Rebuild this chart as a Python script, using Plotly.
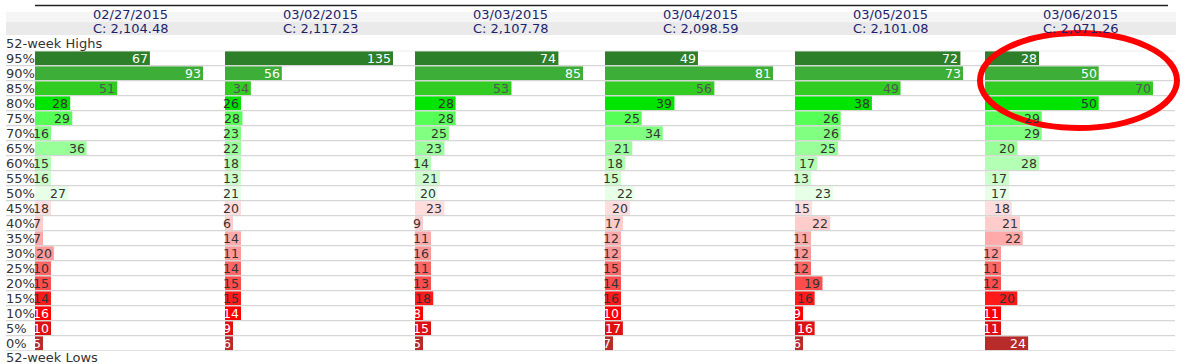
import plotly.graph_objects as go

# ---------------- data ----------------
dates = ["02/27/2015", "03/02/2015", "03/03/2015", "03/04/2015", "03/05/2015", "03/06/2015"]
closes = ["2,104.48", "2,117.23", "2,107.78", "2,098.59", "2,101.08", "2,071.26"]
row_labels = ["95%", "90%", "85%", "80%", "75%", "70%", "65%", "60%", "55%", "50%",
              "45%", "40%", "35%", "30%", "25%", "20%", "15%", "10%", "5%", "0%"]

v_0227 = [67, 93, 51, 28, 29, 16, 36, 15, 16, 27, 18, 7, 7, 20, 10, 15, 14, 16, 10, 5]
v_0302 = [135, 56, 34, 26, 28, 23, 22, 18, 13, 21, 20, 6, 14, 11, 14, 15, 15, 14, 9, 6]
v_0303 = [74, 85, 53, 28, 28, 25, 23, 14, 21, 20, 23, 9, 11, 16, 11, 13, 18, 8, 15, 5]
v_0304 = [49, 81, 56, 39, 25, 34, 21, 18, 15, 22, 20, 17, 12, 12, 15, 14, 16, 10, 17, 7]
v_0305 = [72, 73, 49, 38, 26, 26, 25, 17, 13, 23, 15, 22, 11, 12, 12, 19, 16, 9, 16, 6]
v_0306 = [28, 50, 70, 50, 29, 29, 20, 28, 17, 17, 18, 21, 22, 12, 11, 12, 20, 11, 11, 24]
series = [v_0227, v_0302, v_0303, v_0304, v_0305, v_0306]

row_colors = ["#2e7f2a", "#3dae37", "#33cc22", "#00e400", "#55ff55", "#80ff80", "#99ff99",
              "#b3ffb3", "#ccffcc", "#e6ffe6", "#ffdddd", "#ffcccc", "#ffaaaa", "#ff9999",
              "#ff6666", "#ff4d4d", "#ff1a1a", "#ff0000", "#dd1111", "#b72b2b"]
row_text_colors = ["#ffffff", "#ffffff", "#555555"] + ["#333333"] * 14 + ["#ffffff"] * 3

# ---------------- layout constants ----------------
W, H = 1187, 364
COL_LEFT = 35
COLW = 190
PAD = 22
ROW_TOP = 50.7
ROW_H = 15
N = len(row_labels)
FONT = "'DejaVu Sans', Verdana, sans-serif"


def px(x):
    return x / W


def py(y):
    return 1 - y / H


fig = go.Figure()
annotations = []
shapes = []

# header band
shapes.append(dict(type="rect", xref="paper", yref="paper", x0=px(6), x1=px(1176),
                   y0=py(22), y1=py(12), fillcolor="#f5f5f5", line=dict(width=0), layer="below"))
shapes.append(dict(type="rect", xref="paper", yref="paper", x0=px(6), x1=px(1176),
                   y0=py(35), y1=py(22), fillcolor="#eaeaea", line=dict(width=0), layer="below"))
shapes.append(dict(type="line", xref="paper", yref="paper", x0=px(35), x1=px(1168),
                   y0=py(5.5), y1=py(5.5), line=dict(color="#222222", width=1.5)))

rows_y = list(range(N))

for k, vals in enumerate(series):
    vmax = max(vals)
    r0 = PAD * vmax / COLW
    r1 = vmax + r0
    unit = vmax / COLW
    shown = [max(v, r0 + len(str(v)) * 8 * unit) for v in vals]
    xa = "x" if k == 0 else f"x{k + 1}"
    axname = "xaxis" if k == 0 else f"xaxis{k + 1}"
    d0 = COL_LEFT + COLW * k
    fig.add_trace(go.Bar(
        x=shown, y=rows_y, orientation="h", base=0,
        marker=dict(color=row_colors, line=dict(width=0)),
        width=0.94, xaxis=xa, yaxis="y", hoverinfo="skip", showlegend=False,
    ))
    fig.layout[axname] = dict(domain=[px(d0), px(d0 + COLW)], range=[r0, r1],
                              showgrid=False, zeroline=False, showticklabels=False,
                              showline=False, fixedrange=True, anchor="y")
    for i, v in enumerate(vals):
        annotations.append(dict(x=shown[i], y=i, xref=xa, yref="y", text=str(v),
                                showarrow=False, xanchor="right", yanchor="middle",
                                xshift=0,
                                font=dict(family=FONT, size=12.5, color=row_text_colors[i])))
    cx = px(d0 + COLW / 2)
    annotations.append(dict(x=cx, y=py(14.5), xref="paper", yref="paper", text=dates[k],
                            showarrow=False, xanchor="center", yanchor="middle",
                            font=dict(family=FONT, size=13, color="#221f6e")))
    annotations.append(dict(x=cx, y=py(28.5), xref="paper", yref="paper", text="C: " + closes[k],
                            showarrow=False, xanchor="center", yanchor="middle",
                            font=dict(family=FONT, size=13, color="#221f6e")))

# row labels
for i, lab in enumerate(row_labels):
    annotations.append(dict(x=px(4), y=i, xref="paper", yref="y", text=lab, showarrow=False,
                            xanchor="left", yanchor="middle",
                            font=dict(family=FONT, size=13, color="#333333")))

annotations.append(dict(x=px(4), y=py(43.5), xref="paper", yref="paper", text="52-week Highs",
                        showarrow=False, xanchor="left", yanchor="middle",
                        font=dict(family=FONT, size=13, color="#333333")))
annotations.append(dict(x=px(4), y=py(357.5), xref="paper", yref="paper", text="52-week Lows",
                        showarrow=False, xanchor="left", yanchor="middle",
                        font=dict(family=FONT, size=13, color="#333333")))

# row gridlines
for j in range(N + 1):
    shapes.append(dict(type="line", xref="paper", yref="y", x0=px(6), x1=px(1175),
                       y0=j - 0.5, y1=j - 0.5, line=dict(color="#d6d6d6", width=1.2)))

# red highlight ellipse
shapes.append(dict(type="circle", xref="paper", yref="paper", x0=px(980), x1=px(1177),
                   y0=py(128), y1=py(33), line=dict(color="#ff0000", width=6)))

fig.update_layout(
    width=W, height=H,
    margin=dict(l=0, r=0, t=0, b=0),
    paper_bgcolor="white", plot_bgcolor="white",
    yaxis=dict(domain=[py(ROW_TOP + ROW_H * N), py(ROW_TOP)], range=[N - 0.5, -0.5],
               showgrid=False, zeroline=False, showticklabels=False, fixedrange=True),
    barmode="overlay",
    annotations=annotations,
    shapes=shapes,
    font=dict(family=FONT),
)

fig.write_html("out.html", config={"displayModeBar": False},
               post_script="document.body.style.margin='0px';document.body.style.overflow='hidden';")
